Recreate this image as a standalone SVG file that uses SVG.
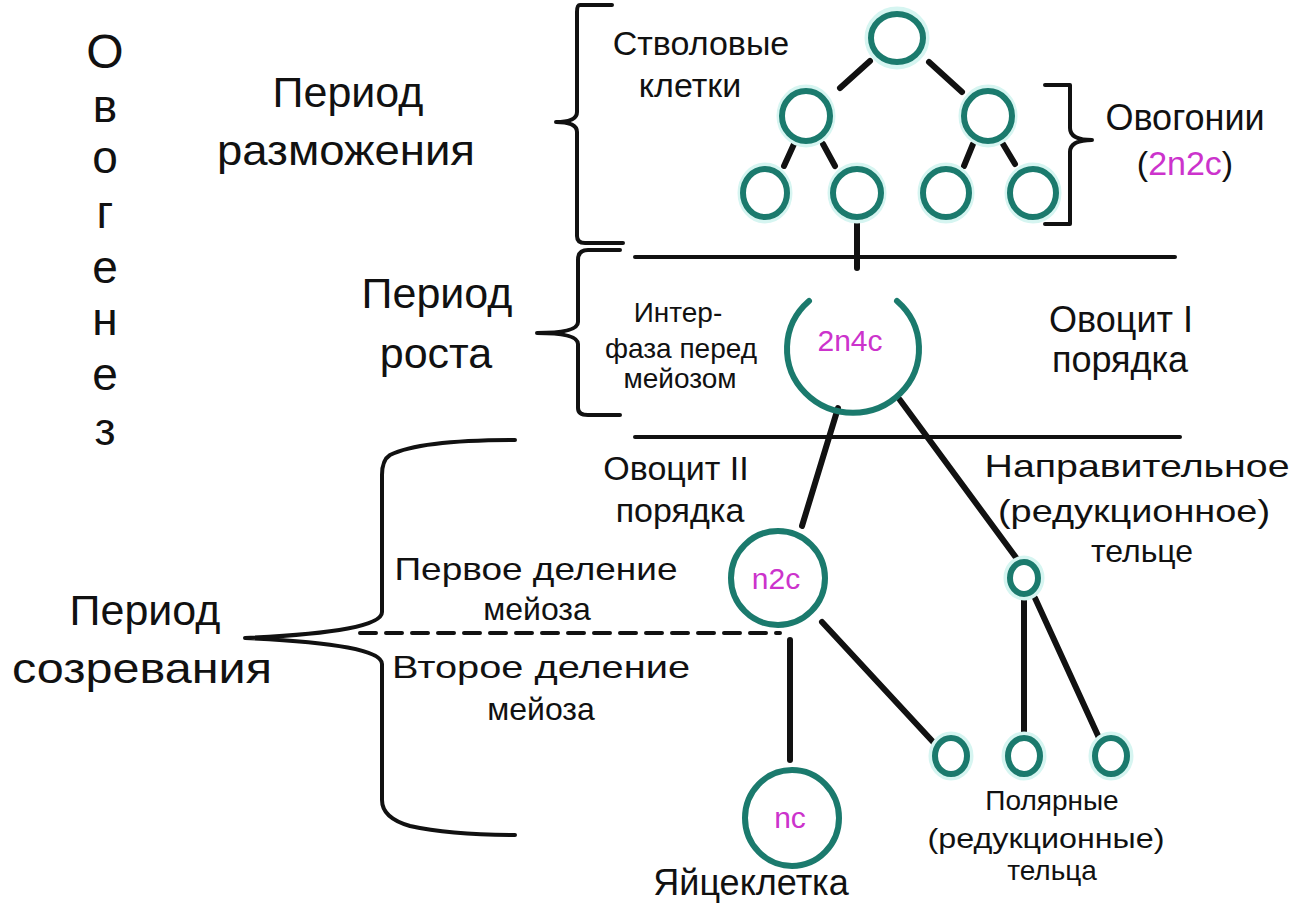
<svg xmlns="http://www.w3.org/2000/svg" width="1300" height="918" viewBox="0 0 1300 918">
<style>
.t{font-family:"Liberation Sans","Noto Sans",sans-serif;fill:#111;text-anchor:middle}
.m{fill:#cc33cc}
.cell{fill:#fff;stroke:#1b7a6d;stroke-width:6}
.glow{fill:none;stroke:#d6f5f1;stroke-width:11}
.ln{stroke:#111;stroke-width:6;stroke-linecap:round;fill:none}
.br{stroke:#111;stroke-width:4;fill:none;stroke-linejoin:round;stroke-linecap:round}
</style>
<rect width="1300" height="918" fill="#fff"/>

<g id="title" class="t" font-size="46">
<text x="105" y="68" font-size="48">О</text>
<text x="105" y="122">в</text>
<text x="105" y="173">о</text>
<text x="105" y="228">г</text>
<text x="105" y="283">е</text>
<text x="105" y="335">н</text>
<text x="105" y="390">е</text>
<text x="105" y="445">з</text>
</g>

<g id="periods" class="t" font-size="43">
<text x="348" y="107">Период</text>
<text x="346" y="165" textLength="258" lengthAdjust="spacingAndGlyphs">разможения</text>
<text x="437" y="308">Период</text>
<text x="436" y="368">роста</text>
<text x="145" y="625">Период</text>
<text x="142" y="683" textLength="260" lengthAdjust="spacingAndGlyphs">созревания</text>
</g>

<g id="braces" class="br">
<path d="M612,5 L580,5 Q577,5 577,12 L577,112 Q577,122 556,122 Q577,122 577,132 L577,236 Q577,243 585,243 L623,243"/>
<path d="M620,250 L588,250 Q578,250 578,260 L578,322 Q578,333 537,333 Q578,333 578,344 L578,408 Q578,415 588,415 L620,415"/>
<path d="M515,440 Q420,440 390,455 Q382,460 382,475 L382,612 Q382,632 245,638 Q382,644 382,664 L382,800 Q382,818 410,826 Q450,835 515,835"/>
<path d="M1045,85 L1070,85 L1070,128 Q1070,140 1092,140 Q1070,140 1070,152 L1070,224 L1045,224"/>
</g>

<g id="dividers" class="br">
<line x1="635" y1="257" x2="1175" y2="257" stroke-width="4"/>
<line x1="635" y1="437" x2="1180" y2="437" stroke-width="4"/>
<line x1="360" y1="633" x2="780" y2="633" stroke-width="4" stroke-dasharray="16,10"/>
</g>

<g id="connectors" class="ln">
<line x1="840" y1="88" x2="870" y2="61"/>
<line x1="929" y1="62" x2="962" y2="92"/>
<line x1="794" y1="144" x2="784" y2="166"/>
<line x1="823" y1="144" x2="835" y2="166"/>
<line x1="973" y1="144" x2="964" y2="166"/>
<line x1="1003" y1="144" x2="1015" y2="164"/>
<line x1="857" y1="221" x2="857" y2="268"/>
<line x1="838" y1="408" x2="802" y2="526"/>
<line x1="900" y1="400" x2="1020" y2="563"/>
<line x1="790" y1="640" x2="790" y2="760"/>
<line x1="822" y1="622" x2="935" y2="744"/>
<line x1="1024" y1="598" x2="1024" y2="740"/>
<line x1="1035" y1="598" x2="1100" y2="740"/>
</g>

<g id="stem-cells">
<g id="n-root"><ellipse class="glow" cx="897" cy="38" rx="27" ry="26"/><ellipse class="cell" cx="897" cy="38" rx="26" ry="24"/></g>
<g id="n-l2a"><ellipse class="glow" cx="806" cy="116" rx="24" ry="26"/><ellipse class="cell" cx="806" cy="116" rx="24" ry="25"/></g>
<g id="n-l2b"><ellipse class="glow" cx="988" cy="116" rx="24" ry="26"/><ellipse class="cell" cx="988" cy="116" rx="24" ry="25"/></g>
<g id="n-l3a"><ellipse class="glow" cx="765" cy="193" rx="22" ry="25"/><ellipse class="cell" cx="765" cy="193" rx="22" ry="24"/></g>
<g id="n-l3b"><ellipse class="glow" cx="857" cy="193" rx="24" ry="25"/><ellipse class="cell" cx="857" cy="193" rx="24" ry="24"/></g>
<g id="n-l3c"><ellipse class="glow" cx="946" cy="193" rx="23" ry="25"/><ellipse class="cell" cx="946" cy="193" rx="23" ry="24"/></g>
<g id="n-l3d"><ellipse class="glow" cx="1033" cy="193" rx="23" ry="25"/><ellipse class="cell" cx="1033" cy="193" rx="23" ry="24"/></g>
</g>

<g id="oocyte1">
<path d="M809,301 A66,64 0 1 0 897,301" fill="none" stroke="#1b7a6d" stroke-width="6" stroke-linecap="round"/>
<text class="t m" x="850" y="351" font-size="30">2n4c</text>
</g>

<g id="oocyte2">
<circle class="cell" cx="778" cy="578" r="47"/>
<text class="t m" x="776" y="589" font-size="30">n2c</text>
</g>

<g id="polar1"><ellipse class="glow" cx="1024" cy="578" rx="15" ry="17"/><ellipse class="cell" cx="1024" cy="578" rx="14" ry="16"/></g>

<g id="egg">
<ellipse class="cell" cx="792" cy="818" rx="47" ry="48"/>
<text class="t m" x="790" y="828" font-size="30">nc</text>
</g>

<g id="polar2"><ellipse class="glow" cx="951" cy="756" rx="17" ry="19"/><ellipse class="cell" cx="951" cy="756" rx="16" ry="18"/></g>
<g id="polar3"><ellipse class="glow" cx="1024" cy="756" rx="17" ry="19"/><ellipse class="cell" cx="1024" cy="756" rx="16" ry="18"/></g>
<g id="polar4"><ellipse class="glow" cx="1111" cy="756" rx="17" ry="19"/><ellipse class="cell" cx="1111" cy="756" rx="16" ry="18"/></g>

<g id="labels" class="t">
<text x="701" y="55" font-size="34">Стволовые</text>
<text x="690" y="97" font-size="34">клетки</text>
<text x="1185" y="130" font-size="36">Овогонии</text>
<text x="1185" y="175" font-size="34">(<tspan class="m">2n2c</tspan>)</text>
<text x="678" y="322" font-size="28">Интер-</text>
<text x="681" y="358" font-size="28">фаза перед</text>
<text x="680" y="388" font-size="28">мейозом</text>
<text x="1121" y="332" font-size="36">Овоцит I</text>
<text x="1120" y="372" font-size="36">порядка</text>
<text x="676" y="480" font-size="34">Овоцит II</text>
<text x="680" y="522" font-size="34">порядка</text>
<text x="1137" y="477" font-size="32" textLength="305" lengthAdjust="spacingAndGlyphs">Направительное</text>
<text x="1134" y="522" font-size="32" textLength="272" lengthAdjust="spacingAndGlyphs">(редукционное)</text>
<text x="1142" y="562" font-size="32">тельце</text>
<text x="536" y="580" font-size="32" textLength="283" lengthAdjust="spacingAndGlyphs">Первое деление</text>
<text x="537" y="620" font-size="32">мейоза</text>
<text x="541" y="678" font-size="32" textLength="298" lengthAdjust="spacingAndGlyphs">Второе деление</text>
<text x="541" y="720" font-size="32">мейоза</text>
<text x="1052" y="810" font-size="28">Полярные</text>
<text x="1046" y="848" font-size="28" textLength="237" lengthAdjust="spacingAndGlyphs">(редукционные)</text>
<text x="1052" y="880" font-size="28">тельца</text>
<text x="751" y="895" font-size="36">Яйцеклетка</text>
</g>
</svg>
